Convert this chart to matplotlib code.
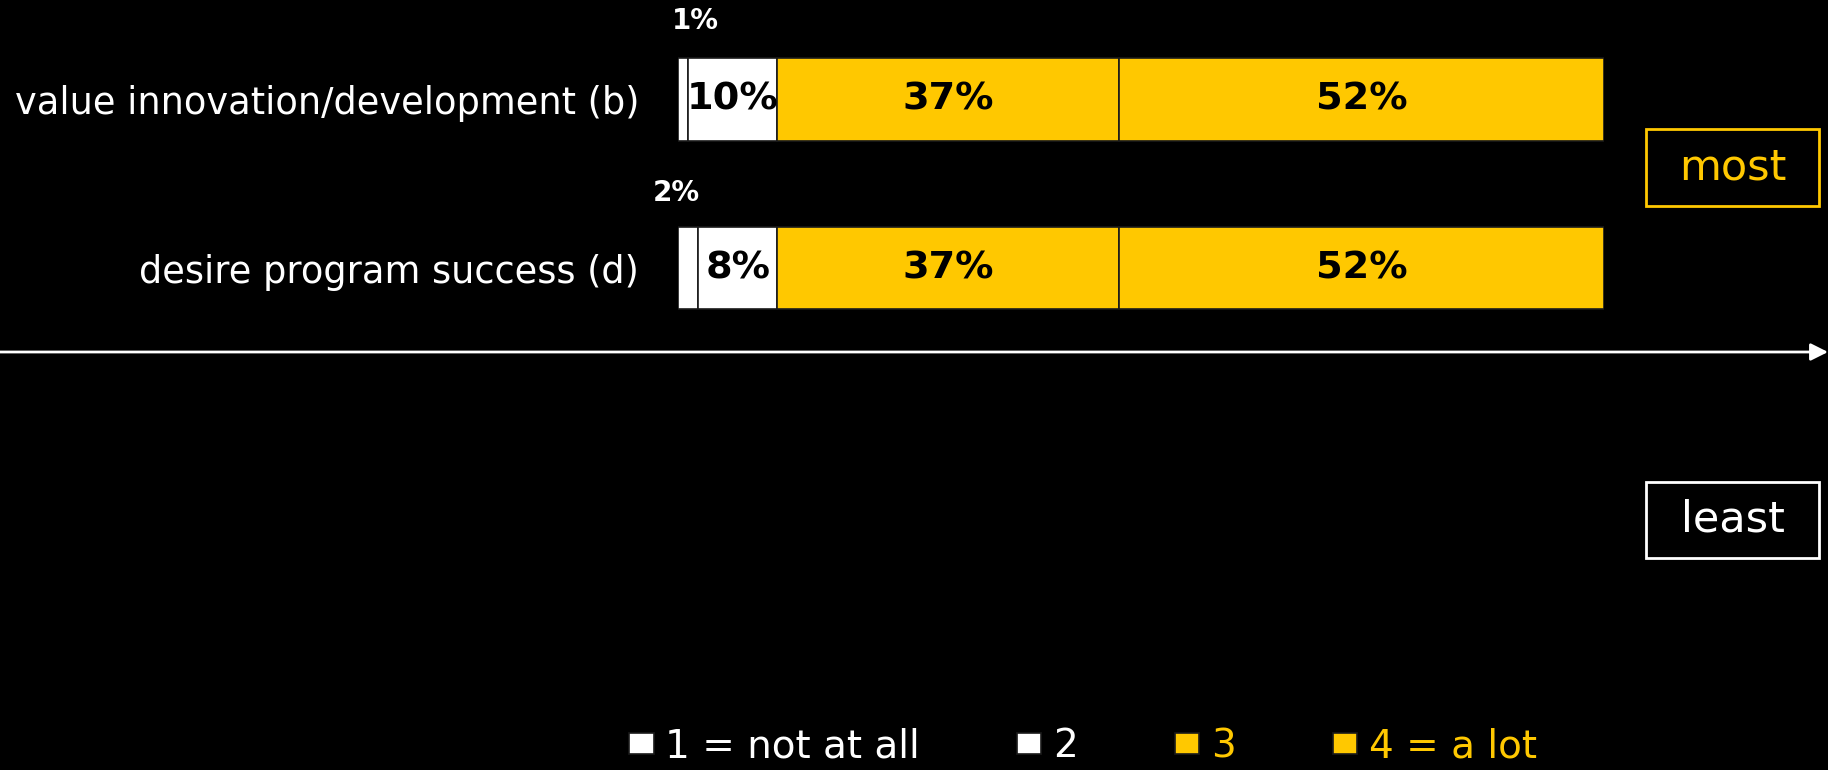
import matplotlib
matplotlib.use("Agg")
import matplotlib.pyplot as plt
from matplotlib.patches import Rectangle, FancyArrowPatch

categories = ["value innovation/development (b)", "desire program success (d)"]
series_names = ["1 = not at all", "2", "3", "4 = a lot"]
s1 = [1.1, 2.2]
s2 = [9.6, 8.5]
s3 = [36.9, 36.9]
s4 = [52.4, 52.4]

GOLD = "#FFC800"
WHITE = "#FFFFFF"
colors = [WHITE, WHITE, GOLD, GOLD]
text_colors = [WHITE, WHITE, GOLD, GOLD]

plt.rcParams['font.family'] = ['DejaVu Sans']

W, H = 1828, 770
fig = plt.figure(figsize=(W / 100, H / 100), dpi=100, facecolor="black")

ax_left, ax_right = 678 / W, 1604 / W
ax = fig.add_axes([ax_left, (H - 352) / H, ax_right - ax_left, 352 / H])
ax.set_facecolor("black")

ypos = list(range(len(categories)))
series = [s1, s2, s3, s4]
lefts = [0] * len(categories)
containers = []
for vals, col, name in zip(series, colors, series_names):
    bc = ax.barh(ypos, vals, left=lefts, height=0.49, color=col,
                 edgecolor="#1a1a1a", linewidth=1.2, label=name)
    containers.append(bc)
    lefts = [l + v for l, v in zip(lefts, vals)]

ax.set_xlim(0, 100)
ax.set_ylim(1.498, -0.59)
ax.set_xticks([])
ax.set_yticks(ypos)
ax.set_yticklabels(categories, fontsize=26.5, color="white")
ax.tick_params(axis="y", length=0, pad=28)
for sp in ax.spines.values():
    sp.set_visible(False)

# in-bar labels for series 2..4
for k in (1, 2, 3):
    for i in ypos:
        left = sum(series[j][i] for j in range(k))
        v = series[k][i]
        ax.text(left + v / 2, i, f"{round(v)}%", ha="center", va="center",
                fontsize=27.5, fontweight="bold", color="black")

# small labels above the thin first segment
offsets = [(12, 37), (-12, 34)]
for i in ypos:
    v = s1[i]
    ax.annotate(f"{round(v)}%", xy=(v / 2, i - 0.245), xytext=offsets[i],
                textcoords="offset pixels", ha="center", va="center",
                fontsize=20, fontweight="bold", color="white",
                annotation_clip=False)

# horizontal arrow
fig.add_artist(FancyArrowPatch(
    (0, (H - 352) / H), (1.0, (H - 352) / H), transform=fig.transFigure,
    arrowstyle="-|>", mutation_scale=26, color="white", lw=2,
    shrinkA=0, shrinkB=0))

# most / least boxes
def box(x0, y0, x1, y1, text, col):
    fig.add_artist(Rectangle((x0 / W, (H - y1) / H), (x1 - x0) / W, (y1 - y0) / H,
                             transform=fig.transFigure, fill=False,
                             edgecolor=col, linewidth=2))
    fig.text((x0 + x1) / 2 / W, (H - (y0 + y1) / 2) / H, text, color=col,
             fontsize=31, ha="center", va="center")

box(1646, 129, 1819, 206, "most", GOLD)
box(1646, 482, 1819, 558, "least", WHITE)

# legend
leg = fig.legend(handles=containers, labels=series_names, loc="center",
                 bbox_to_anchor=(1083 / W, (H - 746) / H), ncol=4,
                 frameon=False, fontsize=28, handlelength=0.62,
                 handleheight=0.45, handletextpad=0.3, columnspacing=2.5,
                 labelcolor=text_colors)

fig.savefig("out.png", dpi=100, facecolor="black")
